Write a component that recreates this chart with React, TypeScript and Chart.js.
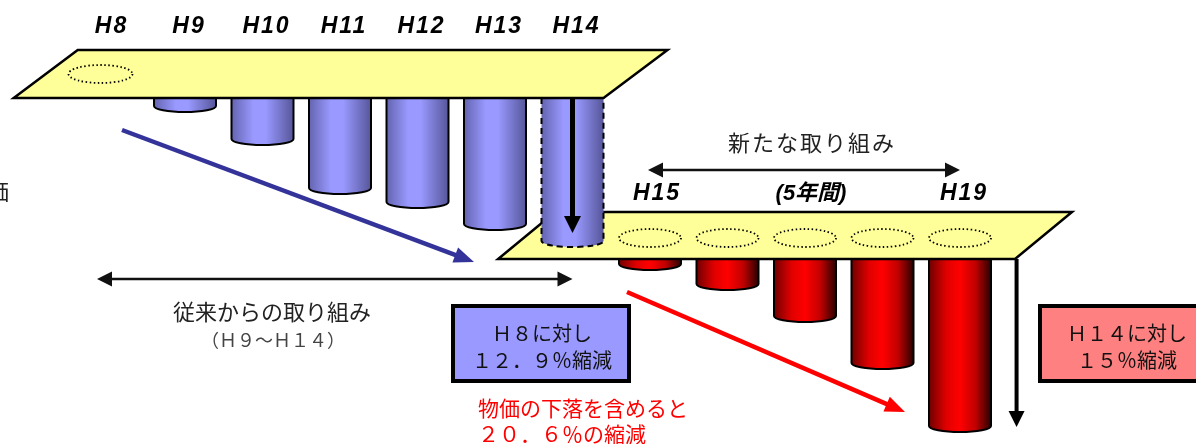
import React, { useEffect, useRef } from 'react';
import { Chart, registerables } from 'chart.js';

Chart.register(...registerables);

// ---- data ----
const years = ['H8', 'H9', 'H10', 'H11', 'H12', 'H13', 'H14', 'H15', 'H16', 'H17', 'H18', 'H19'];
// depth of each cylinder below its platform (visual reduction amount)
const conventionalDepth = [null, 8, 41, 90, 104, 126, 143, null, null, null, null, null];
const newDepth = [null, null, null, null, null, null, null, 5, 25, 57, 104, 167];
const upperLevel = 0;
const lowerLevel = 161;
const upperLabels = ['H8', 'H9', 'H10', 'H11', 'H12', 'H13', 'H14'];
const newPeriodLabel = '(5年間)';
const newTitle = '新たな取り組み';
const oldTitle = '従来からの取り組み';
const oldSub = '（Ｈ９～Ｈ１４）';
const blueBox = ['Ｈ８に対し', '１２．９％縮減'];
const redBox = ['Ｈ１４に対し', '１５％縮減'];
const redNote = ['物価の下落を含めると', '２０．６％の縮減'];
const leftCut = '物価';

const BLUE_STOPS: [number, string][] = [[0, '#6464B0'], [0.35, '#9999FF'], [0.55, '#9999FF'], [1, '#56569A']];
const RED_STOPS: [number, string][] = [[0, '#700000'], [0.28, '#E00000'], [0.5, '#FF0000'], [0.75, '#C00000'], [1, '#2A0000']];
const JP = "'Noto Sans CJK JP', 'Noto Sans', sans-serif";

function cylinder(ctx: CanvasRenderingContext2D, x: number, w: number, top: number, bottom: number, stops: [number, string][], dashed: boolean) {
  const rx = w / 2, ry = 6;
  const g = ctx.createLinearGradient(x - rx, 0, x + rx, 0);
  stops.forEach(([o, c]) => g.addColorStop(o, c));
  const path = () => {
    ctx.beginPath();
    ctx.moveTo(x - rx, top);
    ctx.lineTo(x - rx, bottom);
    ctx.ellipse(x, bottom, rx, ry, 0, Math.PI, 0, true);
    ctx.lineTo(x + rx, top);
  };
  path();
  ctx.closePath();
  ctx.fillStyle = g;
  ctx.fill();
  path();
  ctx.setLineDash(dashed ? [6, 4] : []);
  ctx.lineWidth = 2;
  ctx.strokeStyle = '#000';
  ctx.stroke();
  ctx.setLineDash([]);
}

function platform(ctx: CanvasRenderingContext2D, xl: number, xr: number, yBottom: number, depth: number, skew: number) {
  ctx.beginPath();
  ctx.moveTo(xl + skew, yBottom - depth);
  ctx.lineTo(xr + skew, yBottom - depth);
  ctx.lineTo(xr, yBottom);
  ctx.lineTo(xl, yBottom);
  ctx.closePath();
  ctx.fillStyle = '#FFFF99';
  ctx.fill();
  ctx.lineWidth = 2.5;
  ctx.lineJoin = 'miter';
  ctx.strokeStyle = '#000';
  ctx.stroke();
}

function dottedEllipse(ctx: CanvasRenderingContext2D, x: number, y: number, rx: number, ry: number) {
  ctx.beginPath();
  ctx.ellipse(x, y, rx, ry, 0, 0, Math.PI * 2);
  ctx.setLineDash([1.5, 2.5]);
  ctx.lineWidth = 1.8;
  ctx.strokeStyle = '#000';
  ctx.stroke();
  ctx.setLineDash([]);
}

function head(ctx: CanvasRenderingContext2D, x: number, y: number, ang: number, len: number, wid: number, color: string) {
  ctx.beginPath();
  ctx.moveTo(x, y);
  ctx.lineTo(x - len * Math.cos(ang) + (wid / 2) * Math.sin(ang), y - len * Math.sin(ang) - (wid / 2) * Math.cos(ang));
  ctx.lineTo(x - len * Math.cos(ang) - (wid / 2) * Math.sin(ang), y - len * Math.sin(ang) + (wid / 2) * Math.cos(ang));
  ctx.closePath();
  ctx.fillStyle = color;
  ctx.fill();
}

function arrow(ctx: CanvasRenderingContext2D, x1: number, y1: number, x2: number, y2: number, color: string, lw: number, len: number, wid: number, both = false) {
  const ang = Math.atan2(y2 - y1, x2 - x1);
  const sx = both ? x1 + Math.cos(ang) * len * 0.8 : x1;
  const sy = both ? y1 + Math.sin(ang) * len * 0.8 : y1;
  const ex = x2 - Math.cos(ang) * len * 0.8;
  const ey = y2 - Math.sin(ang) * len * 0.8;
  ctx.beginPath();
  ctx.moveTo(sx, sy);
  ctx.lineTo(ex, ey);
  ctx.lineWidth = lw;
  ctx.strokeStyle = color;
  ctx.lineCap = 'butt';
  ctx.stroke();
  head(ctx, x2, y2, ang, len, wid, color);
  if (both) head(ctx, x1, y1, ang + Math.PI, len, wid, color);
}

function text(ctx: CanvasRenderingContext2D, s: string, x: number, y: number, font: string, color: string, align: CanvasTextAlign = 'center', spacing = '0px') {
  ctx.font = font;
  ctx.fillStyle = color;
  ctx.textAlign = align;
  ctx.textBaseline = 'middle';
  (ctx as any).letterSpacing = spacing;
  ctx.fillText(s, x, y);
  (ctx as any).letterSpacing = '0px';
}

const scenePlugin = {
  id: 'scene',
  afterDraw(chart: any) {
    const ctx: CanvasRenderingContext2D = chart.ctx;
    const xs = chart.scales.x;
    const ys = chart.scales.y;
    const step = xs.getPixelForValue(1) - xs.getPixelForValue(0);
    const X = (i: number) => xs.getPixelForValue(i);
    const upperY = ys.getPixelForValue(upperLevel);
    const lowerY = ys.getPixelForValue(lowerLevel);
    const blueMeta = chart.getDatasetMeta(0);
    const redMeta = chart.getDatasetMeta(1);
    ctx.save();

    // red cylinders (new efforts)
    newDepth.forEach((d, i) => {
      if (d == null) return;
      const el = redMeta.data[i];
      const p = el.getProps(['x', 'y', 'base', 'width'], true);
      cylinder(ctx, p.x, p.width, p.base, p.y, RED_STOPS, false);
    });

    // lower platform
    platform(ctx, X(6) - step * 0.96, X(11) + step * 0.71, lowerY, 47, 57);
    newDepth.forEach((d, i) => {
      if (d == null) return;
      dottedEllipse(ctx, X(i), lowerY - 21, 31, 9);
    });

    // blue cylinders
    conventionalDepth.forEach((d, i) => {
      if (d == null) return;
      const el = blueMeta.data[i];
      const p = el.getProps(['x', 'y', 'base', 'width'], true);
      const last = i === 6;
      cylinder(ctx, p.x, p.width, p.base, p.y, BLUE_STOPS, last);
      if (last) arrow(ctx, p.x, p.base, p.x, p.y - 8, '#000', 5, 17, 17);
    });

    // upper platform
    platform(ctx, X(0) - step * 1.21, X(6) + step * 0.4, upperY, 48, 64);
    dottedEllipse(ctx, X(0) - 7, upperY - 24, 32, 9);

    // right vertical arrow
    arrow(ctx, X(11) + step * 0.73, lowerY, X(11) + step * 0.73, lowerY + 168, '#000', 4, 16, 16);

    // diagonal arrows
    arrow(ctx, 122, 130, 474, 262, '#333399', 4.5, 20, 16);
    arrow(ctx, 627, 292, 905, 412, '#FF0000', 4.5, 20, 16);

    // horizontal double arrows
    arrow(ctx, X(7) - 2, 170, X(11), 170, '#111', 2.5, 15, 15, true);
    arrow(ctx, 97, 279, X(6), 279, '#111', 2.5, 15, 15, true);

    // year labels
    const labFont = "italic bold 23px 'Liberation Sans', " + JP;
    upperLabels.forEach((s, i) => text(ctx, s, X(i) + 4, upperY - 71, labFont, '#000', 'center', '2px'));
    text(ctx, 'H15', X(7) + 7, lowerY - 65, labFont, '#000', 'center', '2px');
    text(ctx, newPeriodLabel, (X(7) + X(11)) / 2 + 6, lowerY - 65, "italic bold 22px 'Liberation Sans', " + JP, '#000', 'center', '0px');
    text(ctx, 'H19', X(11) + 4, lowerY - 65, labFont, '#000', 'center', '2px');

    // titles
    text(ctx, newTitle, 812, 143, `22px ${JP}`, '#222', 'center', '2px');
    text(ctx, oldTitle, 272, 312, `22px ${JP}`, '#222');
    text(ctx, oldSub, 273, 340, `18px ${JP}`, '#444');
    text(ctx, leftCut, 9, 191, `23px ${JP}`, '#222', 'right');

    // boxes
    ctx.lineWidth = 4;
    ctx.strokeStyle = '#000';
    ctx.fillStyle = '#9999FF';
    ctx.fillRect(453, 306, 176, 75);
    ctx.strokeRect(453, 306, 176, 75);
    text(ctx, blueBox[0], 542, 333, `20px ${JP}`, '#111');
    text(ctx, blueBox[1], 542, 360, `20px ${JP}`, '#111');

    ctx.fillStyle = '#FF8080';
    ctx.fillRect(1040, 306, 180, 75);
    ctx.strokeRect(1040, 306, 180, 75);
    text(ctx, redBox[0], 1127, 333, `20px ${JP}`, '#111');
    text(ctx, redBox[1], 1127, 360, `20px ${JP}`, '#111');

    // red note
    text(ctx, redNote[0], 478, 408, `21px ${JP}`, '#FF0000', 'left');
    text(ctx, redNote[1], 478, 434, `21px ${JP}`, '#FF0000', 'left');

    ctx.restore();
  },
};

export default function App() {
  const ref = useRef<HTMLCanvasElement>(null);
  useEffect(() => {
    document.body.style.margin = '0';
    const canvas = ref.current!;
    const chart = new Chart(canvas, {
      type: 'bar',
      data: {
        labels: years,
        datasets: [
          {
            label: '従来からの取り組み',
            data: conventionalDepth.map((d) => (d == null ? null : [upperLevel, upperLevel + d])) as any,
            backgroundColor: 'rgba(0,0,0,0)',
            borderWidth: 0,
            grouped: false,
            barThickness: 62,
          },
          {
            label: '新たな取り組み',
            data: newDepth.map((d) => (d == null ? null : [lowerLevel, lowerLevel + d])) as any,
            backgroundColor: 'rgba(0,0,0,0)',
            borderWidth: 0,
            grouped: false,
            barThickness: 62,
          },
        ],
      },
      options: {
        responsive: false,
        devicePixelRatio: 1,
        animation: false,
        events: [],
        layout: { padding: { left: 68.75, right: 197.25, top: 0, bottom: 0 } },
        plugins: { legend: { display: false }, tooltip: { enabled: false } },
        scales: {
          x: { type: 'category', display: false, offset: true },
          y: { type: 'linear', display: false, min: -98, max: 346, reverse: true },
        },
      },
      plugins: [scenePlugin],
    });
    return () => chart.destroy();
  }, []);
  return <canvas ref={ref} width={1196} height={444} style={{ display: 'block' }} />;
}
